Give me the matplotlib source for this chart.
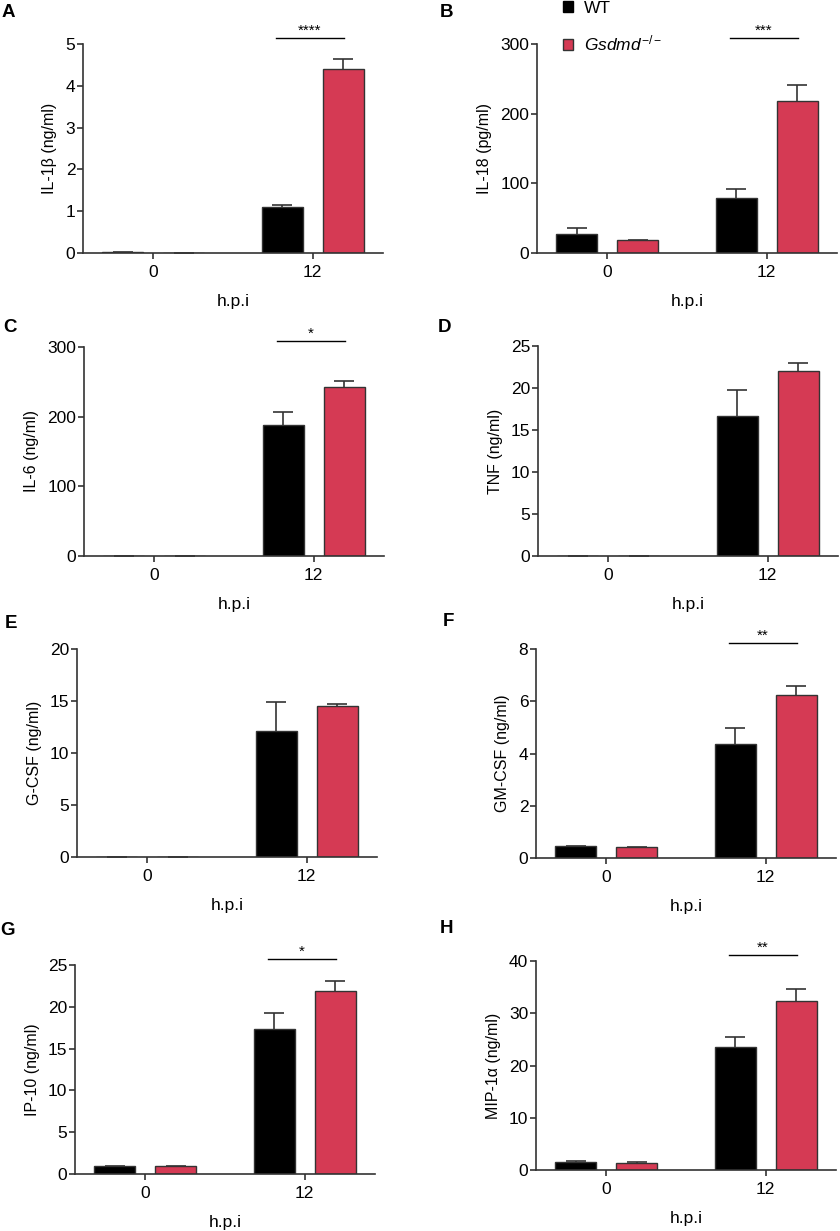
import numpy as np
import matplotlib
matplotlib.use('Agg')
import matplotlib.pyplot as plt
from matplotlib.patches import Patch

plt.rcParams['font.family'] = ['Liberation Sans', 'DejaVu Sans']
plt.rcParams['mathtext.fontset'] = 'custom'
plt.rcParams['mathtext.rm'] = 'Liberation Sans'
plt.rcParams['mathtext.it'] = 'Liberation Sans:italic'

RED = '#d53a54'
EDGE = '#333333'

hpi = ['0', '12']

# values (mean, upper SEM)
wt_il1b = [0.03, 1.10];   wt_il1b_err = [0.0, 0.04]
ko_il1b = [0.01, 4.40];   ko_il1b_err = [0.0, 0.23]
wt_il18 = [27, 79];       wt_il18_err = [9.5, 12.5]
ko_il18 = [18, 218];      ko_il18_err = [0.0, 22.5]
wt_il6 = [0, 187.5];      wt_il6_err = [0, 18.5]
ko_il6 = [0, 242];        ko_il6_err = [0, 9]
wt_tnf = [0, 16.7];       wt_tnf_err = [0, 3.1]
ko_tnf = [0, 22.05];      ko_tnf_err = [0, 0.95]
wt_gcsf = [0, 12.15];     wt_gcsf_err = [0, 2.8]
ko_gcsf = [0, 14.56];     ko_gcsf_err = [0, 0.12]
wt_gmcsf = [0.45, 4.38];  wt_gmcsf_err = [0, 0.6]
ko_gmcsf = [0.42, 6.25];  ko_gmcsf_err = [0, 0.35]
wt_ip10 = [1.0, 17.36];   wt_ip10_err = [0, 1.95]
ko_ip10 = [1.0, 21.94];   ko_ip10_err = [0, 1.1]
wt_mip = [1.47, 23.5];    wt_mip_err = [0.19, 1.95]
ko_mip = [1.34, 32.34];   ko_mip_err = [0.19, 2.24]

ylabels = ['IL-1β (ng/ml)', 'IL-18 (pg/ml)', 'IL-6 (ng/ml)', 'TNF (ng/ml)',
           'G-CSF (ng/ml)', 'GM-CSF (ng/ml)', 'IP-10 (ng/ml)', 'MIP-1α (ng/ml)']
yticks = [[0, 1, 2, 3, 4, 5], [0, 100, 200, 300], [0, 100, 200, 300], [0, 5, 10, 15, 20, 25],
          [0, 5, 10, 15, 20], [0, 2, 4, 6, 8], [0, 5, 10, 15, 20, 25], [0, 10, 20, 30, 40]]
stars = ['****', '***', '*', '', '', '**', '*', '**']
letters = ['A', 'B', 'C', 'D', 'E', 'F', 'G', 'H']

wt = [wt_il1b, wt_il18, wt_il6, wt_tnf, wt_gcsf, wt_gmcsf, wt_ip10, wt_mip]
wt_err = [wt_il1b_err, wt_il18_err, wt_il6_err, wt_tnf_err, wt_gcsf_err, wt_gmcsf_err, wt_ip10_err, wt_mip_err]
ko = [ko_il1b, ko_il18, ko_il6, ko_tnf, ko_gcsf, ko_gmcsf, ko_ip10, ko_mip]
ko_err = [ko_il1b_err, ko_il18_err, ko_il6_err, ko_tnf_err, ko_gcsf_err, ko_gmcsf_err, ko_ip10_err, ko_mip_err]

# axes boxes in pixels: left, top, bottom
boxes = [(83, 44, 253), (537, 44, 253), (84, 347, 556), (538, 346, 556),
         (77, 649, 857), (536, 649, 858), (75, 965, 1174), (536, 961, 1170)]
letter_pos = [(2, 4), (440, 4), (3, 319), (438, 319), (5, 615), (443, 613), (0, 922), (440, 920)]

W, H = 840, 1231
fig = plt.figure(figsize=(W / 100, H / 100), dpi=100)

x = np.arange(len(hpi))
bw = 0.256
off = 0.19


def upper_err(ax, xs, vals, errs):
    eb = ax.errorbar(xs, vals, yerr=[np.zeros(len(vals)), errs], fmt='none', ecolor=EDGE,
                     elinewidth=1.2, capsize=7.5, capthick=1.2, zorder=1)
    # hide the lower caps, only the upper half is drawn in the original
    eb[1][0].set_visible(False)


axes = []
for i in range(8):
    l, t, b = boxes[i]
    ax = fig.add_axes([l / W, 1 - b / H, 300 / W, (b - t) / H])
    axes.append(ax)
    ax.bar(x - off, wt[i], bw, color='black', edgecolor=EDGE, linewidth=1.0, zorder=2)
    ax.bar(x + off, ko[i], bw, color=RED, edgecolor=EDGE, linewidth=1.0, zorder=2)
    upper_err(ax, x - off, wt[i], wt_err[i])
    upper_err(ax, x + off, ko[i], ko_err[i])
    ax.set_xlim(-0.44, 1.44)
    ax.set_ylim(0, yticks[i][-1])
    ax.set_yticks(yticks[i])
    ax.set_xticks(x)
    ax.set_xticklabels(hpi)
    for s in ['top', 'right']:
        ax.spines[s].set_visible(False)
    for s in ['left', 'bottom']:
        ax.spines[s].set_color(EDGE)
        ax.spines[s].set_linewidth(1.2)
    ax.tick_params(axis='both', length=4.5, width=1.2, color=EDGE, labelsize=12.5)
    ax.tick_params(axis='y', pad=1)
    ax.tick_params(axis='x', pad=4)
    ax.set_ylabel(ylabels[i], fontsize=11.5, labelpad=6)
    ax.set_xlabel('h.p.i', fontsize=12.5, labelpad=10)
    if stars[i]:
        tr = ax.get_xaxis_transform()
        ax.plot([0.77, 1.195], [1.029, 1.029], color='black', linewidth=1.0,
                transform=tr, clip_on=False)
        ax.text(0.98, 1.029, stars[i], transform=tr, ha='center', va='bottom', fontsize=11)
    fig.text(letter_pos[i][0] / W, 1 - letter_pos[i][1] / H, letters[i], fontsize=13.5,
             fontweight='bold', ha='left', va='top')

handles = [Patch(facecolor='black', edgecolor='black'), Patch(facecolor=RED, edgecolor=EDGE)]
axes[1].legend(handles, ['WT', r'$\mathit{Gsdmd}^{-/-}$'], loc='upper left',
               bbox_to_anchor=(563 / W, 0.9995), bbox_transform=fig.transFigure,
               frameon=False, fontsize=12.5, handlelength=0.6, handleheight=0.6,
               handletextpad=0.6, labelspacing=1.05, borderpad=0, borderaxespad=0)

fig.savefig('out.png', dpi=100)
